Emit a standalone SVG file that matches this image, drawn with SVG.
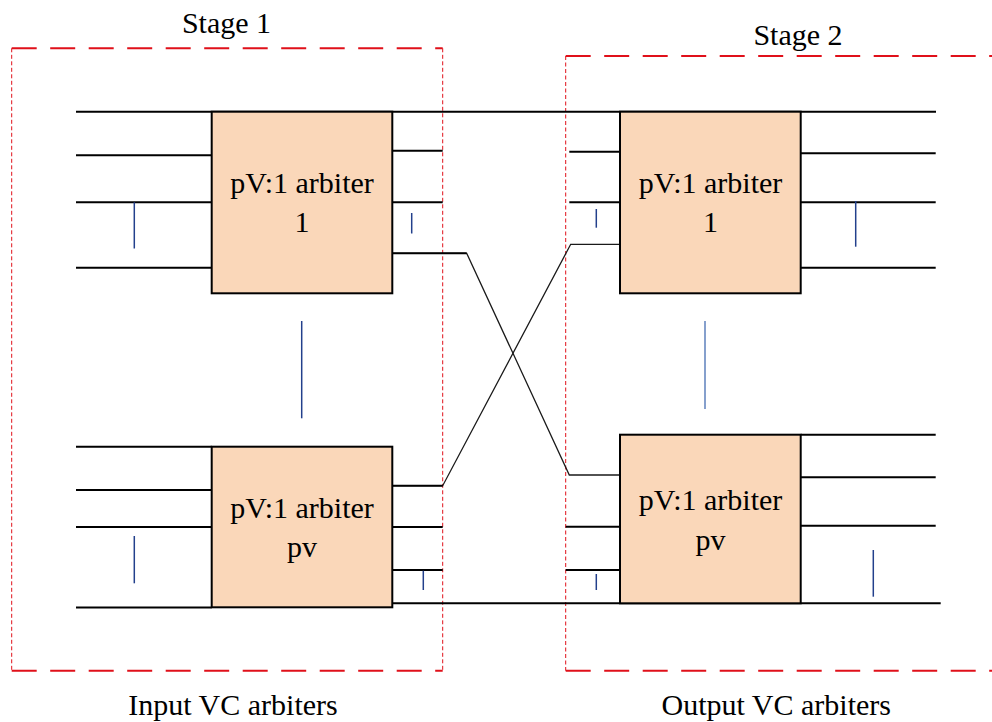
<svg xmlns="http://www.w3.org/2000/svg" width="992" height="722" viewBox="0 0 992 722">
<style>
.t{font-family:"Liberation Serif","Times New Roman",serif;font-size:30px;fill:#000;text-anchor:middle}
.box{fill:#FAD7B9;stroke:#000;stroke-width:2}
.w{stroke:#000;stroke-width:2;fill:none}
.c{stroke:#1a1a1a;stroke-width:1.3;fill:none}
.b{stroke:#23408C;stroke-width:1.5}
.hd{stroke:#E0101A;stroke-width:2;stroke-dasharray:25 13.5;fill:none}
.vd{stroke:#E0101A;stroke-width:1;stroke-dasharray:4 2.5;fill:none}
</style>
<rect width="992" height="722" fill="#fff"/>

<g id="stage1">
<line class="hd" x1="11.7" y1="48.3" x2="442.7" y2="48.3"/>
<line class="hd" x1="11.7" y1="670.7" x2="442.7" y2="670.7"/>
<line class="vd" x1="11.7" y1="48.3" x2="11.7" y2="670.7"/>
<line class="vd" x1="442.7" y1="48.3" x2="442.7" y2="670.7"/>
<text class="t" x="226.5" y="33.3">Stage 1</text>
<text class="t" x="233" y="715">Input VC arbiters</text>
<line class="b" x1="301.7" y1="321" x2="301.7" y2="418.3"/>
</g>

<g id="stage2">
<line class="hd" x1="565.7" y1="56" x2="992" y2="56"/>
<line class="hd" x1="565.7" y1="670.7" x2="992" y2="670.7"/>
<line class="vd" x1="565.7" y1="56" x2="565.7" y2="670.7"/>
<text class="t" x="798" y="45">Stage 2</text>
<text class="t" x="776.3" y="715">Output VC arbiters</text>
<line class="b" x1="705" y1="321" x2="705" y2="409" style="stroke:#5E80BC"/>
</g>

<g id="connectors">
<line class="w" x1="76" y1="111.7" x2="936" y2="111.7"/>
<line class="w" x1="392" y1="603.3" x2="940.7" y2="603.3"/>
<polyline class="c" points="392,253.3 466.7,253.3 569.3,475 620,475"/>
<polyline class="c" points="392,485.7 442.7,485.7 570.7,244.3 620,244.3"/>
</g>

<g id="arbiter-s1-1">
<line class="w" x1="76" y1="155.3" x2="211.7" y2="155.3"/>
<line class="w" x1="76" y1="202.3" x2="211.7" y2="202.3"/>
<line class="w" x1="76" y1="267.7" x2="211.7" y2="267.7"/>
<line class="w" x1="392.3" y1="150.7" x2="442.7" y2="150.7"/>
<line class="w" x1="392.3" y1="202.3" x2="442.7" y2="202.3"/>
<line class="w" x1="392.3" y1="253.3" x2="466.7" y2="253.3"/>
<line class="b" x1="134.3" y1="202.3" x2="134.3" y2="248.5"/>
<line class="b" x1="411.7" y1="213" x2="411.7" y2="233.5"/>
<rect class="box" x="211.7" y="111.7" width="180.6" height="181.6"/>
<text class="t" x="302" y="192.7">pV:1 arbiter</text>
<text class="t" x="302" y="231.7">1</text>
</g>

<g id="arbiter-s1-pv">
<line class="w" x1="76" y1="446.7" x2="211.7" y2="446.7"/>
<line class="w" x1="76" y1="490" x2="211.7" y2="490"/>
<line class="w" x1="76" y1="527" x2="211.7" y2="527"/>
<line class="w" x1="76" y1="607.5" x2="211.7" y2="607.5"/>
<line class="w" x1="392.3" y1="485.7" x2="442.7" y2="485.7"/>
<line class="w" x1="392.3" y1="527" x2="442.7" y2="527"/>
<line class="w" x1="392.3" y1="570" x2="442.7" y2="570"/>
<line class="b" x1="134.3" y1="536" x2="134.3" y2="583.3"/>
<line class="b" x1="423.3" y1="570.7" x2="423.3" y2="590"/>
<rect class="box" x="211.7" y="446.7" width="180.6" height="160.6"/>
<text class="t" x="302" y="518.3">pV:1 arbiter</text>
<text class="t" x="302" y="556.7">pv</text>
</g>

<g id="arbiter-s2-1">
<line class="w" x1="569.3" y1="151.7" x2="620" y2="151.7"/>
<line class="w" x1="569.3" y1="202.3" x2="620" y2="202.3"/>
<line class="w" x1="800.7" y1="153.3" x2="935.7" y2="153.3"/>
<line class="w" x1="800.7" y1="202.3" x2="935.7" y2="202.3"/>
<line class="w" x1="800.7" y1="267.7" x2="935.7" y2="267.7"/>
<line class="b" x1="596.3" y1="209" x2="596.3" y2="227.7"/>
<line class="b" x1="855.7" y1="201" x2="855.7" y2="246.7"/>
<rect class="box" x="620" y="111.7" width="180.7" height="181.6"/>
<text class="t" x="710.5" y="192.7">pV:1 arbiter</text>
<text class="t" x="710.5" y="231.7">1</text>
</g>

<g id="arbiter-s2-pv">
<line class="w" x1="565.7" y1="526.7" x2="620" y2="526.7"/>
<line class="w" x1="565.7" y1="570" x2="620" y2="570"/>
<line class="w" x1="800.7" y1="434.7" x2="935.7" y2="434.7"/>
<line class="w" x1="800.7" y1="477.3" x2="935.7" y2="477.3"/>
<line class="w" x1="800.7" y1="525.7" x2="935.7" y2="525.7"/>
<line class="b" x1="596.3" y1="574" x2="596.3" y2="590"/>
<line class="b" x1="873.3" y1="550" x2="873.3" y2="596.7"/>
<rect class="box" x="620" y="434.7" width="180.7" height="168.6"/>
<text class="t" x="710.5" y="510">pV:1 arbiter</text>
<text class="t" x="710.5" y="550">pv</text>
</g>
</svg>
